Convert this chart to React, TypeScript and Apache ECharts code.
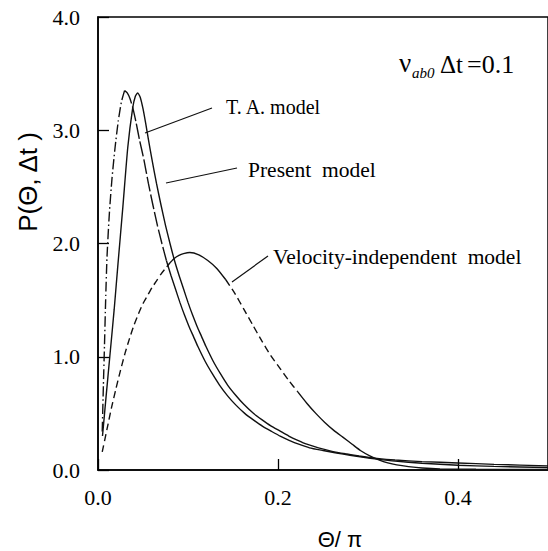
import React, { useEffect, useRef } from "react";
import * as echarts from "echarts";

// [Θ/π, P(Θ, Δt)]
const taModel: [number, number][] = [
  [0.0047, 0.34], [0.006, 0.75], [0.0072, 1.1], [0.0085, 1.5], [0.01, 1.88],
  [0.0125, 2.25], [0.0155, 2.57], [0.019, 2.85], [0.0225, 3.08], [0.026, 3.25],
  [0.0295, 3.35], [0.0325, 3.33], [0.0355, 3.28], [0.0386, 3.2], [0.042, 3.08],
  [0.046, 2.92], [0.051, 2.74], [0.056, 2.53], [0.061, 2.34], [0.066, 2.16],
  [0.071, 2.0], [0.076, 1.85], [0.081, 1.72], [0.086, 1.6], [0.091, 1.48],
  [0.096, 1.37], [0.101, 1.27], [0.106, 1.18], [0.111, 1.09], [0.119, 0.96],
  [0.127, 0.85], [0.135, 0.75], [0.144, 0.655], [0.153, 0.575], [0.163, 0.5],
  [0.173, 0.44], [0.183, 0.385], [0.193, 0.34], [0.203, 0.297], [0.213, 0.26],
  [0.223, 0.228], [0.235, 0.196], [0.25, 0.172], [0.265, 0.15], [0.28, 0.13],
  [0.295, 0.112], [0.31, 0.096], [0.33, 0.078], [0.36, 0.06], [0.4, 0.042],
  [0.44, 0.032], [0.5, 0.022],
];

const presentModel: [number, number][] = [
  [0.005, 0.3], [0.009, 0.65], [0.0131, 1.0], [0.018, 1.42], [0.0222, 1.82],
  [0.0277, 2.33], [0.0331, 2.85], [0.0386, 3.2], [0.0415, 3.3], [0.044, 3.33],
  [0.047, 3.29], [0.05, 3.19], [0.053, 3.06], [0.056, 2.92], [0.06, 2.74],
  [0.065, 2.53], [0.07, 2.34], [0.075, 2.16], [0.08, 2.0], [0.085, 1.85],
  [0.09, 1.72], [0.095, 1.6], [0.1, 1.48], [0.105, 1.37], [0.11, 1.27],
  [0.115, 1.18], [0.12, 1.09], [0.128, 0.96], [0.136, 0.85], [0.144, 0.75],
  [0.153, 0.66], [0.162, 0.58], [0.172, 0.505], [0.182, 0.445], [0.192, 0.39],
  [0.202, 0.345], [0.212, 0.3], [0.222, 0.262], [0.232, 0.228], [0.245, 0.195],
  [0.26, 0.165], [0.275, 0.143], [0.29, 0.124], [0.31, 0.103], [0.33, 0.088],
  [0.36, 0.074], [0.4, 0.062], [0.44, 0.05], [0.5, 0.036],
];

const velIndepModel: [number, number][] = [
  [0.0047, 0.16], [0.01, 0.36], [0.015, 0.55], [0.02, 0.72], [0.025, 0.88],
  [0.03, 1.03], [0.035, 1.16], [0.04, 1.28], [0.045, 1.38], [0.05, 1.47],
  [0.055, 1.54], [0.06, 1.61], [0.065, 1.67], [0.07, 1.73], [0.075, 1.78],
  [0.08, 1.83], [0.085, 1.87], [0.09, 1.895], [0.095, 1.91], [0.102, 1.92],
  [0.112, 1.9], [0.122, 1.85], [0.132, 1.78], [0.142, 1.68], [0.152, 1.56],
  [0.162, 1.42], [0.172, 1.28], [0.182, 1.14], [0.192, 1.01], [0.202, 0.9],
  [0.212, 0.79], [0.222, 0.69], [0.232, 0.59], [0.242, 0.5], [0.252, 0.42],
  [0.262, 0.35], [0.272, 0.29], [0.282, 0.23], [0.292, 0.17], [0.302, 0.125],
  [0.312, 0.09], [0.322, 0.063], [0.332, 0.045], [0.345, 0.03], [0.36, 0.018],
  [0.38, 0.01], [0.42, 0.006], [0.5, 0.004],
];

const xMin = 0;
const xMax = 0.5;
const xStep = 0.2;
const yMin = 0;
const yMax = 4;
const yStep = 1;

const curveLabels = ["T. A. model", "Present  model", "Velocity-independent  model"];

const SERIF = "'Liberation Serif', 'Times New Roman', serif";
const SANS = "'Liberation Sans', Arial, sans-serif";
const INK = "#111";

function seg(data: [number, number][], from: number, to: number) {
  return data.filter(([x]) => x >= from - 1e-9 && x <= to + 1e-9);
}

function line(name: string, data: [number, number][], type: any) {
  return {
    name,
    type: "line",
    data,
    symbol: "none",
    showSymbol: false,
    smooth: 0.2,
    silent: true,
    clip: true,
    lineStyle: { color: INK, width: 1.4, type },
  };
}

function label(text: string, x: number, y: number, font: string, extra: any = {}) {
  return {
    type: "text",
    x,
    y,
    ...extra,
    style: {
      text,
      font,
      fill: "#000",
      align: extra.align || "left",
      verticalAlign: "middle",
      textAlign: extra.align || "left",
      textVerticalAlign: "middle",
    },
  };
}

export default function App() {
  const ref = useRef<HTMLDivElement>(null);
  useEffect(() => {
    if (!ref.current) return;
    const chart = echarts.init(ref.current, undefined, { renderer: "svg" });
    const dashDot = [10, 3, 1.5, 3];
    const longDash = [15, 3];
    const shortDash = [7, 4];
    chart.setOption({
      animation: false,
      backgroundColor: "#fff",
      grid: {
        left: 98,
        top: 17,
        right: -7.5,
        bottom: 81,
        show: true,
        borderColor: "#000",
        borderWidth: 1.5,
        backgroundColor: "transparent",
      },
      xAxis: {
        type: "value",
        min: xMin,
        max: xMax,
        interval: xStep,
        axisLine: { lineStyle: { color: "#000", width: 1.5 } },
        axisTick: { inside: true, length: 11, lineStyle: { color: "#000", width: 1.3 } },
        axisLabel: {
          formatter: (v: number) => v.toFixed(1),
          fontFamily: SERIF,
          fontSize: 22,
          color: "#000",
          margin: 16,
          showMaxLabel: false,
        },
        splitLine: { show: false },
      },
      yAxis: {
        type: "value",
        min: yMin,
        max: yMax,
        interval: yStep,
        axisLine: { lineStyle: { color: "#000", width: 1.5 } },
        axisTick: { inside: true, length: 11, lineStyle: { color: "#000", width: 1.3 } },
        axisLabel: {
          formatter: (v: number) => v.toFixed(1),
          fontFamily: SERIF,
          fontSize: 22,
          color: "#000",
          margin: 18,
        },
        splitLine: { show: false },
      },
      series: [
        line(curveLabels[0], seg(taModel, 0, 0.0295), dashDot),
        line(curveLabels[0], seg(taModel, 0.0295, 0.076), longDash),
        line(curveLabels[0], seg(taModel, 0.076, 1), "solid"),
        line(curveLabels[1], presentModel, "solid"),
        line(curveLabels[2], seg(velIndepModel, 0, 0.08), shortDash),
        line(curveLabels[2], seg(velIndepModel, 0.08, 0.142), "solid"),
        line(curveLabels[2], seg(velIndepModel, 0.142, 0.222), shortDash),
        line(curveLabels[2], seg(velIndepModel, 0.222, 1), "solid"),
      ],
      graphic: [
        { type: "line", shape: { x1: 145, y1: 133, x2: 212, y2: 108 }, style: { stroke: INK, lineWidth: 1.2 } },
        { type: "line", shape: { x1: 166, y1: 183, x2: 237, y2: 168 }, style: { stroke: INK, lineWidth: 1.2 } },
        { type: "line", shape: { x1: 232, y1: 282, x2: 268, y2: 256 }, style: { stroke: INK, lineWidth: 1.2 } },
        label(curveLabels[0], 226, 107, `20px ${SERIF}`),
        label(curveLabels[1], 248, 170, `21.5px ${SERIF}`),
        label(curveLabels[2], 273, 257, `21.5px ${SERIF}`),
        label("ν", 399, 63, `27px ${SERIF}`),
        label("ab0", 412, 73, `italic 15px ${SERIF}`),
        label("Δt", 440, 64, `25px ${SERIF}`),
        label("=0.1", 467, 64, `26px ${SERIF}`),
        label("P(Θ, Δt )", 28, 182, `26px ${SANS}`, { rotation: Math.PI / 2, align: "center" }),
        label("Θ/ π", 340, 539, `22px ${SANS}`, { align: "center" }),
      ],
    });
    return () => chart.dispose();
  }, []);
  return (
    <div
      ref={ref}
      style={{ position: "absolute", left: 0, top: 0, width: 548, height: 551, background: "#fff" }}
    />
  );
}
